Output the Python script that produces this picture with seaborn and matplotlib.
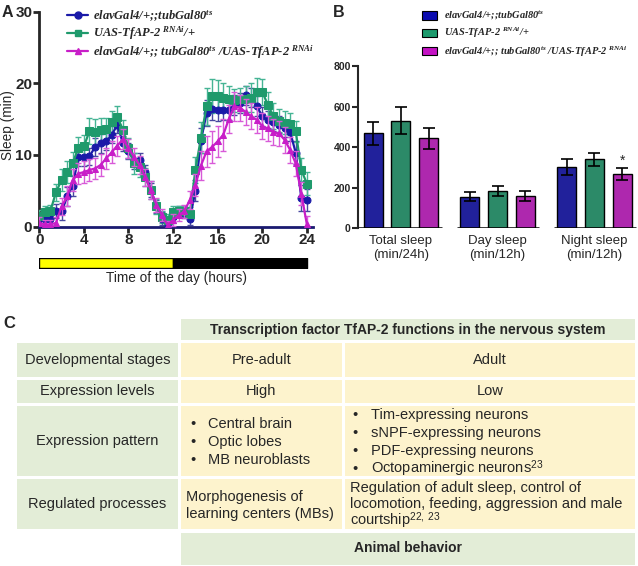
import numpy as np
import pandas as pd
import matplotlib
matplotlib.use('Agg')
import matplotlib.pyplot as plt
import seaborn as sns
from matplotlib.patches import Patch, Rectangle
from matplotlib.lines import Line2D
from matplotlib.font_manager import FontProperties

sns.set_style('ticks')
plt.rcParams['font.family'] = ['Liberation Sans', 'DejaVu Sans']
plt.rcParams['mathtext.fontset'] = 'custom'
plt.rcParams['mathtext.rm'] = 'Liberation Sans'
plt.rcParams['mathtext.it'] = 'Liberation Serif:italic:bold'
plt.rcParams['mathtext.bf'] = 'Liberation Sans:bold'

# ---------------- data: panel A (sleep per 30 min) ----------------
hours = np.arange(0, 24.5, 0.5)
ctrl1 = [1.1, 1.0, 1.0, 2.2, 2.1, 4.2, 5.7, 9.7, 9.7, 9.8, 11.1, 11.6,
         11.9, 12.8, 14.2, 11.6, 10.5, 9.2, 9.3, 7.6, 5.1, 2.8, 1.1, 0.1,
         1.3, 2.2, 1.9, 1.0, 5.0, 12.0, 15.8, 16.4, 16.3, 16.3, 16.3, 17.0,
         17.3, 18.3, 18.0, 16.8, 15.4, 14.9, 14.6, 14.2, 13.7, 13.2, 10.3, 4.0,
         3.7]
ctrl1_err = [0.9, 0.8, 0.8, 1.0, 1.2, 1.3, 1.4, 1.3, 1.2, 1.2, 1.3, 1.3,
             1.2, 1.2, 1.2, 1.1, 1.1, 1.1, 1.0, 1.0, 1.0, 0.9, 0.9, 0.8,
             0.8, 0.7, 0.7, 0.8, 1.5, 1.8, 1.8, 1.5, 1.5, 1.4, 1.4, 1.4,
             1.4, 1.3, 1.3, 1.4, 1.3, 1.2, 1.2, 1.2, 1.2, 1.3, 1.6, 1.8,
             1.6]
ctrl2 = [1.5, 2.0, 2.2, 4.8, 6.5, 7.6, 8.8, 11.0, 11.2, 13.3, 13.2, 13.5,
         13.6, 14.6, 15.3, 13.5, 11.0, 8.8, 8.3, 6.9, 5.1, 2.8, 1.3, 0.9,
         2.0, 2.1, 2.1, 1.8, 7.9, 12.4, 16.8, 18.2, 18.2, 18.0, 17.8, 17.6,
         17.8, 17.8, 18.0, 18.8, 18.8, 17.0, 15.4, 14.8, 14.5, 14.3, 13.3, 7.9,
         6.0]
ctrl2_err = [0.8, 0.8, 0.8, 1.2, 1.5, 1.5, 1.6, 1.5, 1.6, 1.8, 1.8, 1.6,
             1.5, 1.5, 1.5, 1.4, 1.4, 1.4, 1.4, 1.3, 1.2, 1.0, 0.8, 0.8,
             0.8, 0.8, 0.8, 0.9, 1.8, 2.2, 2.6, 2.4, 2.2, 2.0, 1.8, 1.6,
             1.6, 1.8, 2.0, 2.0, 1.8, 1.8, 1.8, 1.6, 1.6, 1.5, 1.5, 1.6,
             1.6]
kd = [0.5, 0.3, 0.3, 0.5, 2.8, 4.2, 6.5, 7.4, 7.6, 7.9, 8.1, 8.6,
      9.5, 10.4, 11.3, 12.2, 10.9, 9.7, 8.6, 6.9, 5.1, 3.0, 1.6, 0.2,
      0.9, 1.6, 2.1, 3.7, 5.8, 8.5, 10.5, 11.1, 11.9, 12.8, 15.0, 16.8,
      16.6, 16.0, 15.4, 14.9, 14.0, 13.7, 13.2, 13.0, 12.1, 10.7, 8.8, 4.6,
      0.3]
kd_err = [0.8, 0.6, 0.6, 0.8, 1.2, 1.4, 1.5, 1.5, 1.5, 1.5, 1.5, 1.5,
          1.5, 1.5, 1.4, 1.4, 1.3, 1.3, 1.3, 1.2, 1.2, 1.0, 0.8, 0.6,
          0.8, 0.8, 0.9, 1.2, 1.6, 2.0, 2.2, 2.2, 2.2, 2.2, 2.0, 2.0,
          1.8, 1.8, 1.8, 1.8, 1.8, 1.8, 1.8, 1.8, 1.8, 1.8, 1.8, 1.6,
          1.2]
light_phase = (0, 12)
dark_phase = (12, 12)

# ---------------- data: panel B ----------------
measures = ['Total sleep\n(min/24h)', 'Day sleep\n(min/12h)', 'Night sleep\n(min/12h)']
ctrl1_mean = [468, 156, 303]
ctrl1_sem = [55, 21, 38]
ctrl2_mean = [530, 184, 340]
ctrl2_sem = [66, 26, 32]
kd_mean = [443, 159, 267]
kd_sem = [52, 25, 29]
kd_sig = ['', '', '*']

labels = [r'elavGal4/+;;tubGal80$^{ts}$',
          r'UAS-TfAP-2 $^{RNAi}$/+',
          r'elavGal4/+;; tubGal80$^{ts}$ /UAS-TfAP-2 $^{RNAi}$']

# ---------------- data: panel C ----------------
table_title = 'Transcription factor TfAP-2 functions in the nervous system'
row_names = ['Developmental stages', 'Expression levels', 'Expression pattern', 'Regulated processes']
stage_pre = ['Pre-adult', 'High']
stage_adult = ['Adult', 'Low']
pattern_pre = ['Central brain', 'Optic lobes', 'MB neuroblasts']
pattern_adult = ['Tim-expressing neurons', 'sNPF-expressing neurons',
                 'PDF-expressing neurons', r'Octopaminergic neurons$^{23}$']
process_pre = ['Morphogenesis of', 'learning centers (MBs)']
process_adult = ['Regulation of adult sleep, control of',
                 'locomotion, feeding, aggression and male',
                 r'courtship$^{22,\ 23}$']
table_footer = 'Animal behavior'

# colours
line_cols = ['#1a1aa8', '#1f9a6c', '#c81ec8']
err_cols = ['#4848a0', '#45b494', '#d85ad8']
bar_cols = ['#0c0cb0', '#1c9a6c', '#c412c4']
markers = ['o', 's', '^']
green_bg = '#e3edd7'
cream_bg = '#fdf3cd'

W, H = 638, 566
fig = plt.figure(figsize=(W / 100, H / 100), dpi=100)

# ======================= panel A =======================
axa = fig.add_axes([39.3 / W, 1 - 226.5 / H, (313 - 39.3) / W, (226.5 - 11.7) / H])
series = [(ctrl2, ctrl2_err, 1), (ctrl1, ctrl1_err, 0), (kd, kd_err, 2)]
handles = [None, None, None]
for vals, err, i in series:
    axa.errorbar(hours, vals, yerr=err, fmt='none', ecolor=err_cols[i],
                 elinewidth=1, capsize=2.5, capthick=1, zorder=2 + i)
    sns.lineplot(x=hours, y=vals, ax=axa, color=line_cols[i], marker=markers[i],
                 markersize=5 if i != 1 else 5.5, markeredgecolor=line_cols[i],
                 linewidth=1.6, legend=False, zorder=3 + i)
    handles[i] = Line2D([], [], color=line_cols[i], marker=markers[i], markersize=5,
                        markeredgecolor=line_cols[i], linewidth=1.6)
axa.set_xlim(0, 24.55)
axa.set_ylim(0, 30)
axa.set_xticks([0, 4, 8, 12, 16, 20, 24])
axa.set_yticks([0, 10, 20, 30])
for lab in axa.get_xticklabels() + axa.get_yticklabels():
    lab.set_fontweight('bold')
    lab.set_fontsize(11)
axa.tick_params(width=2, length=4, pad=1)
sns.despine(ax=axa)
axa.spines['left'].set_linewidth(2)
axa.spines['bottom'].set_linewidth(2)
axa.spines['bottom'].set_color('#1a1a70')
axa.set_ylabel('Sleep (min)', fontsize=9.8)
axa.yaxis.set_label_coords(-0.09, 0.47)
axa.set_xlabel('')

leg_font = FontProperties(family='Liberation Serif', style='italic', weight='bold', size=9)
fig.legend(handles, labels, loc='upper left', bbox_to_anchor=(62 / W, 1 - 3 / H),
           frameon=False, prop=leg_font, handlelength=1.7, handletextpad=0.35,
           labelspacing=0.08, borderaxespad=0)

# light/dark bar
axl = fig.add_axes([39.3 / W, 1 - 268 / H, (313 - 39.3) / W, 10 / H])
axl.broken_barh([light_phase], (0, 1), facecolor='#ffff00', edgecolor='black', linewidth=1)
axl.broken_barh([dark_phase], (0, 1), facecolor='black', edgecolor='black', linewidth=1)
axl.set_xlim(0, 24.55)
axl.set_ylim(0, 1)
axl.set_xticks([])
axl.set_yticks([])
for s in axl.spines.values():
    s.set_visible(False)
axl.set_xlabel('Time of the day (hours)', fontsize=9.8, labelpad=2)

# ======================= panel B =======================
rows = []
for name, means, sems in [(labels[0], ctrl1_mean, ctrl1_sem),
                          (labels[1], ctrl2_mean, ctrl2_sem),
                          (labels[2], kd_mean, kd_sem)]:
    for m, mu, se in zip(measures, means, sems):
        rows.append({'measure': m, 'genotype': name, 'mean': mu, 'sem': se})
dfb = pd.DataFrame(rows)

axb = fig.add_axes([358.3 / W, 1 - 228.3 / H, (637 - 358.3) / W, (228.3 - 66) / H])
sns.barplot(data=dfb, x='measure', y='mean', hue='genotype', hue_order=labels,
            order=measures, palette=bar_cols, width=0.86, gap=0.32,
            edgecolor='black', linewidth=1, legend=False, ax=axb, zorder=2)
for p in axb.patches:
    h = p.get_height()
    row = dfb[dfb['mean'] == h]
    if len(row) == 0:
        continue
    se = row['sem'].iloc[0]
    xc = p.get_x() + p.get_width() / 2
    axb.errorbar(xc, h, yerr=se, fmt='none', ecolor='black', elinewidth=1.2,
                 capsize=4, capthick=1.2, zorder=3)
    gi = labels.index(row['genotype'].iloc[0])
    mi = measures.index(row['measure'].iloc[0])
    if gi == 2 and kd_sig[mi]:
        axb.text(xc, h + se + 4, kd_sig[mi], ha='center', va='bottom', fontsize=10)

axb.set_xlim(-0.44, 2.44)
axb.set_ylim(0, 800)
axb.set_yticks([0, 200, 400, 600, 800])
for lab in axb.get_yticklabels():
    lab.set_fontweight('bold')
    lab.set_fontsize(7.5)
axb.tick_params(axis='y', width=1.5, length=4, pad=1.5)
axb.tick_params(axis='x', length=0, pad=5, labelsize=9.5)
sns.despine(ax=axb, bottom=True)
axb.spines['left'].set_linewidth(1.5)
for i in range(len(measures)):
    axb.hlines(0, i - 0.44 if i == 0 else i - 0.42, i + 0.43, color='black', linewidth=1.8, zorder=4)
axb.set_xlabel('')
axb.set_ylabel('')

leg_font_b = FontProperties(family='Liberation Serif', style='italic', weight='bold', size=7.5)
bar_handles = [Patch(facecolor=c, edgecolor='black', linewidth=0.8) for c in bar_cols]
fig.legend(bar_handles, labels, loc='upper left', bbox_to_anchor=(418 / W, 1 - 5 / H),
           frameon=False, prop=leg_font_b, handlelength=1.4, handleheight=0.85,
           handletextpad=0.7, labelspacing=0.35, borderaxespad=0)

# ======================= panel C =======================
axc = fig.add_axes([0, 0, 1, 266 / H])
axc.set_xlim(0, W)
axc.set_ylim(H, 300)
axc.axis('off')

col_x = [(17, 178), (181, 341.5), (344.5, 635)]
row_y = [(319.3, 340), (343.3, 377.3), (380, 402.7), (406, 476), (479.3, 529.3), (532.7, 565)]


def cell(x0, x1, y0, y1, color):
    axc.add_patch(Rectangle((x0, y0), x1 - x0, y1 - y0, facecolor=color, edgecolor='none'))


def mid(a):
    return (a[0] + a[1]) / 2


def text_lines(x, yc, lines, step, bullet_x=None):
    n = len(lines)
    for k, s in enumerate(lines):
        y = yc + (k - (n - 1) / 2) * step
        if bullet_x is not None:
            axc.text(bullet_x, y, '•', ha='left', va='baseline', fontsize=10.5)
        axc.text(x, y, s, ha='left', va='baseline', fontsize=10.5)


# header and footer
cell(col_x[1][0], col_x[2][1], *row_y[0], green_bg)
axc.text(mid((col_x[1][0], col_x[2][1])), mid(row_y[0]), table_title, ha='center', va='center',
         fontsize=10, fontweight='bold')
cell(col_x[1][0], col_x[2][1], *row_y[5], green_bg)
axc.text(mid((col_x[1][0], col_x[2][1])), mid(row_y[5]) - 1, table_footer, ha='center', va='center',
         fontsize=10, fontweight='bold')

for r in range(4):
    y0, y1 = row_y[r + 1]
    cell(*col_x[0], y0, y1, green_bg)
    axc.text(mid(col_x[0]), mid(row_y[r + 1]), row_names[r], ha='center', va='center', fontsize=10.5)
    cell(*col_x[1], y0, y1, cream_bg)
    cell(*col_x[2], y0, y1, cream_bg)

for r in range(2):
    axc.text(mid(col_x[1]), mid(row_y[r + 1]), stage_pre[r], ha='center', va='center', fontsize=10.5)
    axc.text(mid(col_x[2]), mid(row_y[r + 1]), stage_adult[r], ha='center', va='center', fontsize=10.5)

# baseline offset ~ +5 px from visual centre
text_lines(208, mid(row_y[3]) + 5, pattern_pre, 17.7, bullet_x=190)
text_lines(371, mid(row_y[3]) + 5, pattern_adult, 18.0, bullet_x=352)
text_lines(186, mid(row_y[4]) + 5, process_pre, 16.6)
text_lines(350, mid(row_y[4]) + 4, process_adult, 16.5)

# panel letters
fig.text(2 / W, 1 - 5 / H, 'A', fontsize=11.5, fontweight='bold', va='top')
fig.text(333 / W, 1 - 5 / H, 'B', fontsize=11.5, fontweight='bold', va='top')
fig.text(3 / W, 1 - 316 / H, 'C', fontsize=12, fontweight='bold', va='top')

fig.savefig('out.png', dpi=100)
